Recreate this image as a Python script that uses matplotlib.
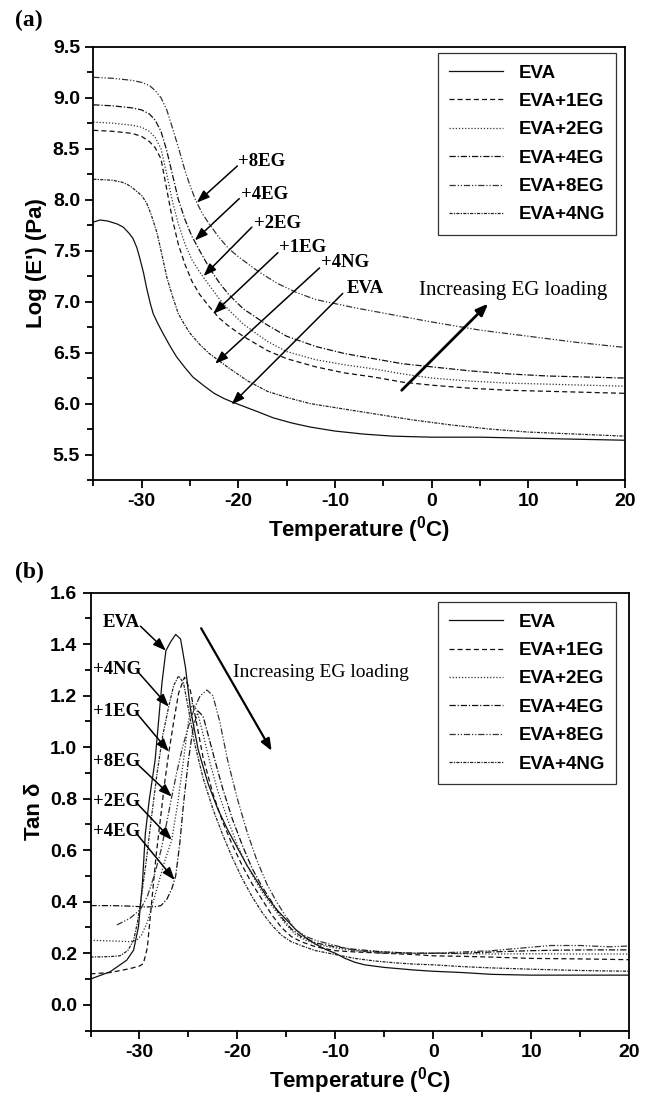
import matplotlib
matplotlib.use('Agg')
import matplotlib.pyplot as plt
from matplotlib.ticker import MultipleLocator, FormatStrFormatter

plt.rcParams['font.family'] = ['Liberation Sans', 'DejaVu Sans']
plt.rcParams['font.weight'] = 'bold'
plt.rcParams['axes.unicode_minus'] = False
plt.rcParams['mathtext.fontset'] = 'custom'
plt.rcParams['mathtext.rm'] = 'Liberation Sans'
plt.rcParams['mathtext.bf'] = 'Liberation Sans:bold'

# ---------------- (a) storage modulus, log E' (Pa) ----------------
eva_T = [-35, -34.3, -33.5, -32.5, -31.9, -31.3, -30.9, -30.5, -30.2, -29.8, -29.5, -29.1,
         -28.8, -28.3, -27.8, -27.1, -26.4, -25.5, -24.7, -23.5, -22.5, -21.5, -20.5, -18,
         -16.4, -14.5, -12.6, -10, -7, -4, 0, 5, 10, 15, 20]
eva_E = [7.78, 7.80, 7.79, 7.76, 7.73, 7.67, 7.62, 7.53, 7.43, 7.28, 7.14, 6.98,
         6.88, 6.78, 6.69, 6.57, 6.46, 6.35, 6.26, 6.17, 6.10, 6.05, 6.01, 5.92,
         5.86, 5.81, 5.77, 5.73, 5.70, 5.68, 5.67, 5.67, 5.66, 5.65, 5.64]

ng4_T = [-35, -33, -32, -31.5, -31, -30.5, -30, -29.5, -29, -28.4, -27.9, -27.4, -26.8, -26.2,
         -25.6, -25, -24, -23, -22, -21, -19, -17, -15, -12.6, -10, -6, -2, 2, 6, 10, 15, 20]
ng4_E = [8.20, 8.19, 8.17, 8.15, 8.12, 8.08, 8.04, 7.97, 7.85, 7.67, 7.46, 7.24, 7.05, 6.88,
         6.78, 6.69, 6.58, 6.49, 6.42, 6.35, 6.22, 6.12, 6.06, 6.00, 5.96, 5.90, 5.84, 5.79,
         5.75, 5.72, 5.70, 5.68]

eg_T = [-35, -33, -31, -30, -29.2, -28.6, -28, -27.4, -26.8, -26.2, -25.5, -24.8, -24, -23,
        -22, -21, -19.5, -17, -15, -12, -9, -6, -3, 0, 4, 8, 12, 16, 20]
eg1_E = [8.68, 8.67, 8.65, 8.62, 8.57, 8.51, 8.40, 8.10, 7.80, 7.56, 7.36, 7.20, 7.07, 6.95,
         6.84, 6.76, 6.66, 6.52, 6.44, 6.36, 6.30, 6.26, 6.21, 6.18, 6.15, 6.13, 6.12, 6.11, 6.10]
eg2_E = [8.76, 8.75, 8.73, 8.71, 8.67, 8.61, 8.50, 8.25, 7.98, 7.76, 7.56, 7.41, 7.29, 7.16,
         7.03, 6.92, 6.78, 6.61, 6.51, 6.43, 6.38, 6.34, 6.29, 6.25, 6.22, 6.20, 6.19, 6.18, 6.17]
eg4_E = [8.93, 8.92, 8.90, 8.88, 8.84, 8.78, 8.67, 8.48, 8.24, 8.00, 7.80, 7.64, 7.50, 7.33,
         7.19, 7.07, 6.93, 6.77, 6.66, 6.56, 6.49, 6.44, 6.39, 6.36, 6.32, 6.29, 6.27, 6.26, 6.25]

eg8_T = [-35, -33, -31, -30, -29.2, -28.6, -28, -27.4, -26.8, -26.1, -25.5, -25, -24.4, -23.7,
         -23, -22, -21, -20, -18, -16, -14, -12, -8, -4, 0, 5, 10, 15, 20]
eg8_E = [9.20, 9.19, 9.17, 9.15, 9.12, 9.07, 9.00, 8.88, 8.70, 8.48, 8.28, 8.14, 7.99, 7.86,
         7.76, 7.63, 7.52, 7.44, 7.30, 7.18, 7.09, 7.02, 6.94, 6.87, 6.80, 6.72, 6.66, 6.60, 6.55]

# ---------------- (b) tan delta ----------------
eva_tT = [-35, -33, -31.3, -30.6, -30.1, -29.7, -29.4, -29.0, -28.4, -27.7, -27.3, -26.8, -26.3,
          -25.8, -25.3, -24.8, -24, -23, -22, -21, -20, -19, -18, -17, -16, -15, -14, -13,
          -12, -11, -10, -9, -8, -7, -5, -2, 0, 3, 6, 10, 15, 20]
eva_tan = [0.10, 0.128, 0.173, 0.212, 0.303, 0.47, 0.665, 0.795, 0.95, 1.25, 1.375, 1.41, 1.438,
           1.42, 1.31, 1.15, 0.99, 0.86, 0.76, 0.68, 0.61, 0.54, 0.48, 0.42, 0.37, 0.33, 0.29,
           0.26, 0.235, 0.215, 0.20, 0.18, 0.165, 0.155, 0.145, 0.135, 0.13, 0.125, 0.118,
           0.115, 0.115, 0.115]

ng4_tT = [-35, -33, -32, -31.2, -30.6, -30.2, -29.8, -29.3, -28.8, -28.2, -27.6, -27.0, -26.5,
          -26.0, -25.5, -25.0, -24.4, -23.5, -22.5, -21.5, -20.5, -19.5, -18.5, -17.5, -16.5,
          -15.5, -14.5, -13.5, -12, -10, -8, -6, -4, -2, 0, 3, 6, 10, 15, 20]
ng4_tan = [0.185, 0.187, 0.19, 0.21, 0.25, 0.32, 0.42, 0.56, 0.72, 0.90, 1.05, 1.16, 1.24,
           1.277, 1.25, 1.15, 1.02, 0.88, 0.76, 0.66, 0.57, 0.49, 0.42, 0.36, 0.31, 0.27,
           0.245, 0.23, 0.21, 0.195, 0.18, 0.17, 0.163, 0.158, 0.155, 0.148, 0.143, 0.138,
           0.133, 0.13]

eg1_tT = [-35, -33, -31, -30, -29.6, -29.2, -28.8, -28.3, -27.8, -27.4, -27.0, -26.5, -26.0,
          -25.4, -24.8, -24.2, -23.5, -22.5, -21.5, -20.5, -19.5, -18.5, -17.5, -16.5, -15.5,
          -14.5, -13.5, -12, -10, -8, -5, -2, 0, 3, 6, 10, 15, 20]
eg1_tan = [0.12, 0.125, 0.14, 0.15, 0.16, 0.22, 0.38, 0.58, 0.74, 0.87, 0.98, 1.10, 1.21,
           1.272, 1.22, 1.10, 0.96, 0.82, 0.71, 0.62, 0.54, 0.47, 0.41, 0.35, 0.30, 0.265,
           0.245, 0.225, 0.21, 0.205, 0.20, 0.195, 0.19, 0.188, 0.185, 0.18, 0.178, 0.175]

eg2_tT = [-35, -33, -31, -30.3, -29.8, -29.2, -28.6, -28.0, -27.4, -26.7, -26.1, -25.5, -25.0,
          -24.6, -24.1, -23.5, -22.8, -22, -21, -20, -19, -18, -17, -16, -15, -14, -13, -12,
          -10, -8, -5, -2, 0, 3, 6, 10, 15, 20]
eg2_tan = [0.25, 0.248, 0.245, 0.25, 0.27, 0.32, 0.40, 0.48, 0.56, 0.64, 0.78, 0.95, 1.10,
           1.17, 1.14, 1.05, 0.94, 0.83, 0.72, 0.62, 0.54, 0.47, 0.41, 0.36, 0.31, 0.27, 0.25,
           0.235, 0.22, 0.21, 0.205, 0.20, 0.20, 0.198, 0.197, 0.198, 0.197, 0.197]

eg4_tT = [-35, -33, -31, -29.5, -28.5, -27.8, -27.2, -26.7, -26.3, -25.9, -25.5, -25.0, -24.5,
          -24.0, -23.5, -23.0, -22.3, -21.5, -20.5, -19.5, -18.5, -17.5, -16.5, -15.5, -14.5,
          -13.5, -12, -10, -8, -5, -2, 0, 3, 6, 10, 13, 16, 20]
eg4_tan = [0.385, 0.385, 0.383, 0.38, 0.38, 0.385, 0.41, 0.45, 0.50, 0.62, 0.78, 0.95, 1.08,
           1.14, 1.12, 1.05, 0.95, 0.84, 0.72, 0.62, 0.53, 0.46, 0.40, 0.34, 0.295, 0.265,
           0.24, 0.225, 0.215, 0.205, 0.20, 0.20, 0.20, 0.205, 0.21, 0.212, 0.213, 0.213]

eg8_tT = [-32.3, -31, -29.9, -29.2, -28.5, -27.8, -27.2, -26.7, -26.2, -25.6, -25.0, -24.4,
          -23.8, -23.1, -22.5, -21.8, -21, -20, -19, -18, -17, -16, -15, -14, -13, -12, -10,
          -8, -5, -2, 0, 3, 6, 9, 12, 15, 18, 20]
eg8_tan = [0.31, 0.335, 0.37, 0.42, 0.50, 0.60, 0.71, 0.808, 0.90, 1.00, 1.08, 1.15, 1.20,
           1.222, 1.20, 1.10, 0.95, 0.80, 0.67, 0.56, 0.47, 0.40, 0.34, 0.29, 0.265, 0.25,
           0.23, 0.21, 0.20, 0.20, 0.20, 0.205, 0.21, 0.22, 0.23, 0.23, 0.225, 0.228]

# arrow labels: (text, text position, arrow tail, arrow tip)
labels_a = [('+8EG', (-20.0, 8.37), (-20.1, 8.33), (-24.3, 7.97)),
            ('+4EG', (-19.7, 8.05), (-19.9, 8.01), (-24.5, 7.60)),
            ('+2EG', (-18.4, 7.77), (-18.6, 7.73), (-23.6, 7.25)),
            ('+1EG', (-15.8, 7.53), (-15.9, 7.48), (-22.6, 6.88)),
            ('+4NG', (-11.4, 7.38), (-11.6, 7.33), (-22.4, 6.39)),
            ('EVA', (-8.8, 7.13), (-9.2, 7.08), (-20.7, 5.99))]
labels_b = [('EVA', (-33.8, 1.483), (-29.9, 1.47), (-27.3, 1.375)),
            ('+4NG', (-34.75, 1.30), (-30.1, 1.29), (-27.0, 1.157)),
            ('+1EG', (-34.75, 1.138), (-30.2, 1.128), (-27.0, 0.983)),
            ('+8EG', (-34.75, 0.944), (-30.2, 0.934), (-26.7, 0.808)),
            ('+2EG', (-34.75, 0.79), (-30.2, 0.78), (-26.7, 0.640)),
            ('+4EG', (-34.75, 0.672), (-30.2, 0.66), (-26.4, 0.484))]

styles = {'EVA': '-',
          'EVA+1EG': (0, (4, 2.5)),
          'EVA+2EG': (0, (1, 1.5)),
          'EVA+4EG': (0, (5, 1.5, 1, 1.5)),
          'EVA+8EG': (0, (5, 1.5, 1, 1.5, 1, 1.5)),
          'EVA+4NG': (0, (2.5, 1, 1, 1))}

serif = ['Liberation Serif', 'DejaVu Serif']

fig = plt.figure(figsize=(6.46, 10.95), dpi=100)
ax1 = fig.add_axes([93.3 / 646, 1 - 480 / 1095, 531.7 / 646, 433.3 / 1095])
ax2 = fig.add_axes([90.5 / 646, 1 - 1030.5 / 1095, 538.5 / 646, 437.8 / 1095])


def style_axes(ax):
    for s in ax.spines.values():
        s.set_linewidth(1.3)
    ax.set_xlim(-35, 20)
    ax.xaxis.set_major_locator(MultipleLocator(10))
    ax.xaxis.set_minor_locator(MultipleLocator(5))
    ax.tick_params(which='both', direction='out', width=1.3, labelsize=14, top=False, right=False)
    ax.tick_params(which='major', length=6)
    ax.tick_params(which='minor', length=4)
    ax.set_xlabel(r'Temperature ($^\mathbf{0}$C)', fontsize=16, fontweight='bold', labelpad=3)


def draw_curves(ax, series):
    colors = ['#111111', '#111111', '#333333', '#111111', '#333333', '#222222']
    for (name, x, y), c in zip(series, colors):
        ax.plot(x, y, linestyle=styles[name], color=c, lw=0.9, label=name)


# panel (a)
draw_curves(ax1, [('EVA', eva_T, eva_E), ('EVA+1EG', eg_T, eg1_E), ('EVA+2EG', eg_T, eg2_E),
                  ('EVA+4EG', eg_T, eg4_E), ('EVA+8EG', eg8_T, eg8_E), ('EVA+4NG', ng4_T, ng4_E)])
style_axes(ax1)
ax1.set_ylim(5.25, 9.5)
ax1.yaxis.set_major_locator(MultipleLocator(0.5))
ax1.yaxis.set_minor_locator(MultipleLocator(0.25))
ax1.yaxis.set_major_formatter(FormatStrFormatter('%.1f'))
ax1.set_ylabel("Log (E') (Pa)", fontsize=16, fontweight='bold')

# panel (b)
draw_curves(ax2, [('EVA', eva_tT, eva_tan), ('EVA+1EG', eg1_tT, eg1_tan),
                  ('EVA+2EG', eg2_tT, eg2_tan), ('EVA+4EG', eg4_tT, eg4_tan),
                  ('EVA+8EG', eg8_tT, eg8_tan), ('EVA+4NG', ng4_tT, ng4_tan)])
style_axes(ax2)
ax2.set_ylim(-0.1, 1.6)
ax2.yaxis.set_major_locator(MultipleLocator(0.2))
ax2.yaxis.set_minor_locator(MultipleLocator(0.1))
ax2.yaxis.set_major_formatter(FormatStrFormatter('%.1f'))
ax2.set_ylabel('Tan δ', fontsize=16, fontweight='bold')

for ax, labs in ((ax1, labels_a), (ax2, labels_b)):
    for txt, tpos, tail, tip in labs:
        ax.text(tpos[0], tpos[1], txt, fontsize=13.5, fontweight='bold', family=serif,
                ha='left', va='center')
        ax.annotate('', xy=tip, xytext=tail,
                    arrowprops=dict(arrowstyle='-|>,head_length=0.55,head_width=0.2',
                                    color='black', lw=1.1, mutation_scale=14,
                                    shrinkA=0, shrinkB=0))

# increasing EG loading
ax1.text(-1.3, 7.11, 'Increasing EG loading', fontsize=15, fontweight='normal', family=serif,
         ha='left', va='center')
ax1.annotate('', xy=(5.85, 6.98), xytext=(-3.1, 6.13),
             arrowprops=dict(arrowstyle='-|>,head_length=0.5,head_width=0.2', color='black',
                             lw=2, mutation_scale=14, shrinkA=0, shrinkB=0))
ax2.text(-20.4, 1.29, 'Increasing EG loading', fontsize=14, fontweight='normal', family=serif,
         ha='left', va='center')
ax2.annotate('', xy=(-16.5, 0.986), xytext=(-23.7, 1.462),
             arrowprops=dict(arrowstyle='-|>,head_length=0.5,head_width=0.2', color='black',
                             lw=1.6, mutation_scale=14, shrinkA=0, shrinkB=0))

for ax, anchor in ((ax1, (0.983, 0.985)), (ax2, (0.976, 0.978))):
    leg = ax.legend(loc='upper right', bbox_to_anchor=anchor, borderaxespad=0,
                    prop={'family': 'Liberation Sans', 'weight': 'bold', 'size': 13.5},
                    fancybox=False, framealpha=1, edgecolor='#333333',
                    handlelength=2.9, handletextpad=0.8, labelspacing=0.6, borderpad=0.6)
    leg.get_frame().set_linewidth(0.9)

fig.text(15 / 646, 1 - 20 / 1095, '(a)', fontsize=17, fontweight='bold', family=serif,
         ha='left', va='center')
fig.text(15 / 646, 1 - 572 / 1095, '(b)', fontsize=17, fontweight='bold', family=serif,
         ha='left', va='center')

fig.savefig('out.png', dpi=100)
